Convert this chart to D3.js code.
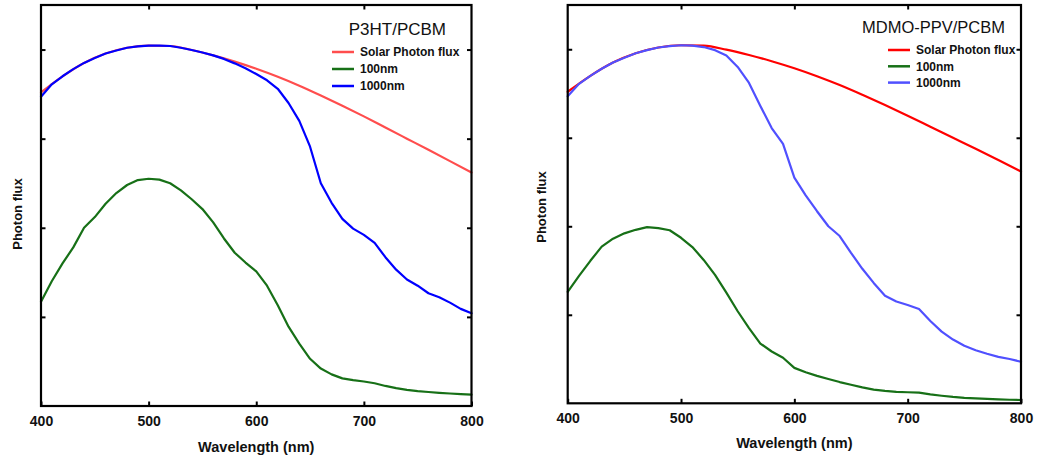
<!DOCTYPE html>
<html>
<head>
<meta charset="utf-8">
<script src="https://cdn.jsdelivr.net/npm/d3@7"></script>
<style>
  html, body { margin: 0; padding: 0; background: #fff; }
  svg { display: block; }
  text { font-family: Arial, "Liberation Sans", Helvetica, sans-serif; }
</style>
</head>
<body>
<svg id="chart" width="1037" height="459"></svg>
<script>
// ---------- data ----------
const xTicks = [400, 500, 600, 700, 800];
const yTicks = [1, 2, 3, 4];

const solarWavelengths = [400,420,440,460,480,500,520,540,560,580,600,620,640,660,680,700,720,740,760,780,800];
const solarFlux = [3.52,3.70,3.85,3.955,4.02,4.045,4.04,3.995,3.935,3.865,3.785,3.695,3.595,3.485,3.37,3.25,3.125,3.0,2.875,2.748,2.62];

const wavelengths = [400,410,420,430,440,450,460,470,480,490,500,510,520,530,540,550,560,570,580,590,600,
                     610,620,630,640,650,660,670,680,690,700,710,720,730,740,750,760,770,780,790,800];

// P3HT/PCBM
const p3ht100 = [1.17,1.40,1.60,1.78,2.00,2.12,2.27,2.39,2.48,2.535,2.55,2.54,2.50,2.42,2.32,2.21,2.06,1.88,1.72,1.61,1.51,
                 1.35,1.13,0.89,0.70,0.53,0.42,0.355,0.31,0.29,0.275,0.255,0.225,0.20,0.18,0.167,0.157,0.148,0.14,0.133,0.127];
const p3ht1000 = [3.47,3.61,3.70,3.78,3.85,3.905,3.955,3.99,4.02,4.035,4.045,4.045,4.04,4.02,3.995,3.967,3.935,3.895,3.845,3.79,3.725,
                  3.655,3.56,3.40,3.20,2.91,2.50,2.28,2.10,1.99,1.92,1.83,1.67,1.53,1.42,1.35,1.265,1.22,1.16,1.09,1.04];

// MDMO-PPV/PCBM
const mdmo100 = [1.26,1.44,1.61,1.77,1.86,1.92,1.96,1.99,1.98,1.955,1.87,1.765,1.62,1.45,1.25,1.04,0.85,0.675,0.585,0.515,0.40,
                 0.35,0.31,0.275,0.24,0.21,0.18,0.155,0.14,0.13,0.125,0.12,0.10,0.085,0.072,0.062,0.055,0.049,0.044,0.04,0.037];
const mdmo1000 = [3.47,3.61,3.70,3.78,3.85,3.905,3.955,3.99,4.02,4.035,4.045,4.04,4.025,3.99,3.93,3.80,3.62,3.36,3.11,2.93,2.55,
                  2.35,2.17,2.00,1.89,1.70,1.52,1.36,1.215,1.15,1.11,1.065,0.93,0.81,0.72,0.65,0.60,0.56,0.525,0.50,0.47];

const legendLabels = ["Solar Photon flux", "100nm", "1000nm"];
const panelTitles = ["P3HT/PCBM", "MDMO-PPV/PCBM"];
const xLabel = "Wavelength (nm)";
const yLabel = "Photon flux";

// ---------- drawing ----------
const svg = d3.select("#chart");

const panels = [
  {
    title: panelTitles[0],
    left: 41, right: 471.5, top: 5, bottom: 406,
    colors: ["#ff4d4d", "#177017", "#0000ff"],
    series: [
      {x: solarWavelengths, y: solarFlux, smooth: true},
      {x: wavelengths, y: p3ht100},
      {x: wavelengths, y: p3ht1000}
    ],
    titleX: 446, titleY: 35, titleSize: 17,
    legX: 332, legY: 52, legGap: 17,
    yLabelX: 22, yLabelY: 214,
    xLabelY: 452
  },
  {
    title: panelTitles[1],
    left: 567.7, right: 1021, top: 5, bottom: 403.3,
    colors: ["#ff0000", "#177017", "#5050ff"],
    series: [
      {x: solarWavelengths, y: solarFlux, smooth: true},
      {x: wavelengths, y: mdmo100},
      {x: wavelengths, y: mdmo1000}
    ],
    titleX: 1005, titleY: 33, titleSize: 16.5,
    legX: 888, legY: 50, legGap: 16.3,
    yLabelX: 546, yLabelY: 207,
    xLabelY: 448
  }
];

panels.forEach(p => {
  const g = svg.append("g");
  const x = d3.scaleLinear().domain([400, 800]).range([p.left, p.right]);
  const y = d3.scaleLinear().domain([0, 4.5]).range([p.bottom, p.top]);

  // curves (drawn under frame)
  const order = [0, 2, 1];
  order.forEach(i => {
    const s = p.series[i];
    const pts = s.x.map((w, k) => [w, s.y[k]]);
    const line = d3.line()
      .x(d => x(d[0])).y(d => y(d[1]))
      .curve(s.smooth ? d3.curveMonotoneX : d3.curveLinear);
    g.append("path")
      .datum(pts)
      .attr("d", line)
      .attr("fill", "none")
      .attr("stroke", p.colors[i])
      .attr("stroke-width", 2.2)
      .attr("stroke-linejoin", "round")
      .attr("stroke-linecap", "round");
  });

  // axes with inward ticks
  const tickLen = 4.5;
  const axB = g.append("g").attr("transform", `translate(0,${p.bottom})`)
    .call(d3.axisBottom(x).tickValues(xTicks).tickSizeInner(-tickLen).tickSizeOuter(0).tickPadding(10).tickFormat(d3.format("d")));
  const axT = g.append("g").attr("transform", `translate(0,${p.top})`)
    .call(d3.axisTop(x).tickValues(xTicks.slice(1, -1)).tickSizeInner(-tickLen).tickSizeOuter(0).tickFormat(""));
  const axL = g.append("g").attr("transform", `translate(${p.left},0)`)
    .call(d3.axisLeft(y).tickValues(yTicks).tickSizeInner(-tickLen).tickSizeOuter(0).tickFormat(""));
  const axR = g.append("g").attr("transform", `translate(${p.right},0)`)
    .call(d3.axisRight(y).tickValues(yTicks).tickSizeInner(-tickLen).tickSizeOuter(0).tickFormat(""));
  [axB, axT, axL, axR].forEach(a => {
    a.select(".domain").remove();
    a.selectAll(".tick line").attr("stroke", "#000").attr("stroke-width", 2);
  });
  axB.selectAll(".tick text")
    .attr("font-size", 14).attr("font-weight", "bold").attr("fill", "#111")
    .attr("font-family", "Arial, 'Liberation Sans', sans-serif");

  // frame
  g.append("rect")
    .attr("x", p.left).attr("y", p.top)
    .attr("width", p.right - p.left).attr("height", p.bottom - p.top)
    .attr("fill", "none").attr("stroke", "#000").attr("stroke-width", 2.2);

  // title
  g.append("text")
    .attr("x", p.titleX).attr("y", p.titleY)
    .attr("text-anchor", "end")
    .attr("font-size", p.titleSize)
    .attr("fill", "#111")
    .text(p.title);

  // legend
  legendLabels.forEach((lab, i) => {
    const ly = p.legY + i * p.legGap;
    g.append("line")
      .attr("x1", p.legX).attr("x2", p.legX + 22)
      .attr("y1", ly).attr("y2", ly)
      .attr("stroke", p.colors[i]).attr("stroke-width", 2.5);
    g.append("text")
      .attr("x", p.legX + 28).attr("y", ly + 4.2)
      .attr("font-size", 12).attr("font-weight", "bold").attr("fill", "#111")
      .text(lab);
  });

  // axis labels
  g.append("text")
    .attr("x", (p.left + p.right) / 2).attr("y", p.xLabelY)
    .attr("text-anchor", "middle")
    .attr("font-size", 14.5).attr("font-weight", "bold").attr("fill", "#111")
    .text(xLabel);
  g.append("text")
    .attr("transform", `translate(${p.yLabelX},${p.yLabelY}) rotate(-90)`)
    .attr("text-anchor", "middle")
    .attr("font-size", 13).attr("font-weight", "bold").attr("fill", "#111")
    .text(yLabel);
});
</script>
</body>
</html>
